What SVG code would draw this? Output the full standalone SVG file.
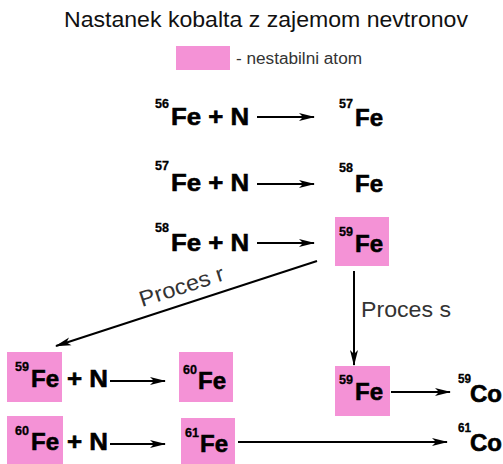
<svg xmlns="http://www.w3.org/2000/svg" width="503" height="464" viewBox="0 0 503 464">
<defs>
<marker id="ah" viewBox="0 0 16 10" refX="15" refY="5" markerWidth="16" markerHeight="10" markerUnits="userSpaceOnUse" orient="auto">
<path d="M0,1 L16,5 L0,9 L4,5 Z" fill="#000"/>
</marker>
</defs>
<style>
.box{fill:#f492d6}
.el{font-family:"Liberation Sans",Arial,sans-serif;font-weight:bold;font-size:24px;fill:#000;stroke:#000;stroke-width:0.6}
.sup{font-family:"Liberation Sans",Arial,sans-serif;font-weight:bold;font-size:13px;fill:#000;stroke:#000;stroke-width:0.3}
.lbl{font-family:"Liberation Sans",Arial,sans-serif;font-size:22px;fill:#333}
.ln{stroke:#000;stroke-width:2;fill:none;marker-end:url(#ah)}
</style>
<rect width="503" height="464" fill="#fff"/>
<text x="64" y="27" textLength="404" lengthAdjust="spacingAndGlyphs" style="font-family:'Liberation Sans',Arial,sans-serif;font-size:22px;fill:#111">Nastanek kobalta z zajemom nevtronov</text>
<g id="legend">
<rect class="box" x="176" y="46" width="54" height="24"/>
<text x="236" y="64" textLength="126" lengthAdjust="spacingAndGlyphs" style="font-family:'Liberation Sans',Arial,sans-serif;font-size:16px;fill:#333">- nestabilni atom</text>
</g>
<g id="r1">
<text class="sup" x="155" y="108" textLength="14" lengthAdjust="spacingAndGlyphs">56</text><text class="el" x="171" y="125" textLength="78" lengthAdjust="spacingAndGlyphs">Fe + N</text>
<text class="sup" x="339" y="108" textLength="14" lengthAdjust="spacingAndGlyphs">57</text><text class="el" x="355" y="126">Fe</text>
</g>
<g id="r2">
<text class="sup" x="155" y="170" textLength="14" lengthAdjust="spacingAndGlyphs">57</text><text class="el" x="171" y="191" textLength="78" lengthAdjust="spacingAndGlyphs">Fe + N</text>
<text class="sup" x="339" y="172" textLength="14" lengthAdjust="spacingAndGlyphs">58</text><text class="el" x="355" y="192">Fe</text>
</g>
<g id="r3">
<text class="sup" x="155" y="232" textLength="14" lengthAdjust="spacingAndGlyphs">58</text><text class="el" x="171" y="251" textLength="78" lengthAdjust="spacingAndGlyphs">Fe + N</text>
<rect class="box" x="335" y="217" width="54" height="49"/>
<text class="sup" x="339" y="236" textLength="14" lengthAdjust="spacingAndGlyphs">59</text><text class="el" x="355" y="252">Fe</text>
</g>
<g id="b1">
<rect class="box" x="7" y="352" width="55" height="50"/>
<text class="sup" x="15" y="371" textLength="14" lengthAdjust="spacingAndGlyphs">59</text><text class="el" x="31" y="387">Fe</text>
<text class="el" x="67" y="387" textLength="41" lengthAdjust="spacingAndGlyphs">+ N</text>
</g>
<g id="b2">
<rect class="box" x="179" y="352" width="54" height="50"/>
<text class="sup" x="183" y="374" textLength="14" lengthAdjust="spacingAndGlyphs">60</text><text class="el" x="198" y="389">Fe</text>
</g>
<g id="b3">
<rect class="box" x="7" y="416" width="56" height="48"/>
<text class="sup" x="15" y="435" textLength="14" lengthAdjust="spacingAndGlyphs">60</text><text class="el" x="31" y="450">Fe</text>
<text class="el" x="67" y="450" textLength="41" lengthAdjust="spacingAndGlyphs">+ N</text>
</g>
<g id="b4">
<rect class="box" x="181" y="418" width="54" height="46"/>
<text class="sup" x="185" y="437" textLength="14" lengthAdjust="spacingAndGlyphs">61</text><text class="el" x="200" y="452">Fe</text>
</g>
<g id="b5">
<rect class="box" x="335" y="366" width="55" height="50"/>
<text class="sup" x="339" y="384" textLength="14" lengthAdjust="spacingAndGlyphs">59</text><text class="el" x="355" y="400">Fe</text>
</g>
<g id="co59">
<text class="sup" x="458" y="383" textLength="13" lengthAdjust="spacingAndGlyphs">59</text><text class="el" x="470" y="402">Co</text>
</g>
<g id="co61">
<text class="sup" x="458" y="432" textLength="13" lengthAdjust="spacingAndGlyphs">61</text><text class="el" x="470" y="451">Co</text>
</g>
<g id="connectors">
<line class="ln" x1="257" y1="117" x2="314" y2="117"/>
<line class="ln" x1="257" y1="184" x2="314" y2="184"/>
<line class="ln" x1="257" y1="243" x2="314" y2="243"/>
<line class="ln" x1="317" y1="261" x2="56" y2="346"/>
<line class="ln" x1="354" y1="271" x2="354" y2="365"/>
<line class="ln" x1="110" y1="381" x2="165" y2="381"/>
<line class="ln" x1="110" y1="444" x2="165" y2="444"/>
<line class="ln" x1="391" y1="392" x2="450" y2="392"/>
<line class="ln" x1="238" y1="442" x2="447" y2="442"/>
</g>
<text class="lbl" transform="translate(142,307) rotate(-18)" textLength="88" lengthAdjust="spacingAndGlyphs">Proces r</text>
<text class="lbl" x="361" y="317" textLength="90" lengthAdjust="spacingAndGlyphs">Proces s</text>
</svg>
